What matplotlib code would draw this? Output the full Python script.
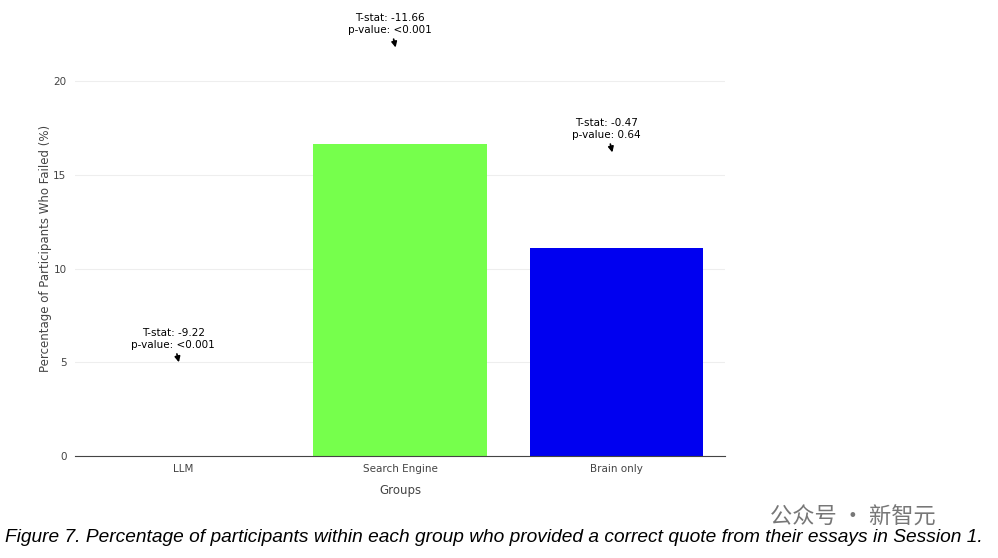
import matplotlib
matplotlib.use('Agg')
import matplotlib.pyplot as plt

groups = ['LLM', 'Search Engine', 'Brain only']
values = [0.0, 16.67, 11.11]
colors = ['#ff0000', '#76ff4c', '#0000f0']
ann_text = ['T-stat: -9.22\np-value: <0.001', 'T-stat: -11.66\np-value: <0.001', 'T-stat: -0.47\np-value: 0.64']
ann_y = [5.0, 21.8, 16.2]

fig = plt.figure(figsize=(9.98, 5.58), dpi=100)
ax = fig.add_axes([0.075, 1 - 456 / 558, 0.6515, 416 / 558])
ax.bar(range(3), values, width=0.8, color=colors, zorder=2)
ax.set_xlim(-0.5, 2.5)
ax.set_ylim(0, 22.2)
ax.set_yticks([0, 5, 10, 15, 20])
ax.set_xticks(range(3))
ax.set_xticklabels(groups)
ax.tick_params(length=0, labelsize=7.5, colors='#444444', pad=6)
ax.grid(axis='y', color='#eeeeee', lw=0.8, zorder=0)
for s in ['top', 'right', 'left']:
    ax.spines[s].set_visible(False)
ax.spines['bottom'].set_color('#444444')
ax.set_xlabel('Groups', fontsize=8.5, color='#444444', labelpad=7)
ax.set_ylabel('Percentage of Participants Who Failed (%)', fontsize=8.5, color='#444444', labelpad=1)

for i, (t, y) in enumerate(zip(ann_text, ann_y)):
    ax.annotate(t, xy=(i - 0.02, y), xytext=(-4, 9), textcoords='offset points',
                ha='center', va='bottom', fontsize=7.5, annotation_clip=False,
                arrowprops=dict(arrowstyle='-|>', color='black', lw=1.2, mutation_scale=8,
                                shrinkA=1, shrinkB=0))

fig.text(0.005, 0.036, 'Figure 7. Percentage of participants within each group who provided a correct quote from their essays in Session 1.',
         fontsize=13.8, style='italic', family='Liberation Sans', ha='left', va='center')
fig.text(0.772, 0.073, '公众号 · 新智元', fontsize=16, color='#777777',
         family=['Noto Sans CJK SC', 'DejaVu Sans'], ha='left', va='center')

fig.savefig('out.png', dpi=100)
